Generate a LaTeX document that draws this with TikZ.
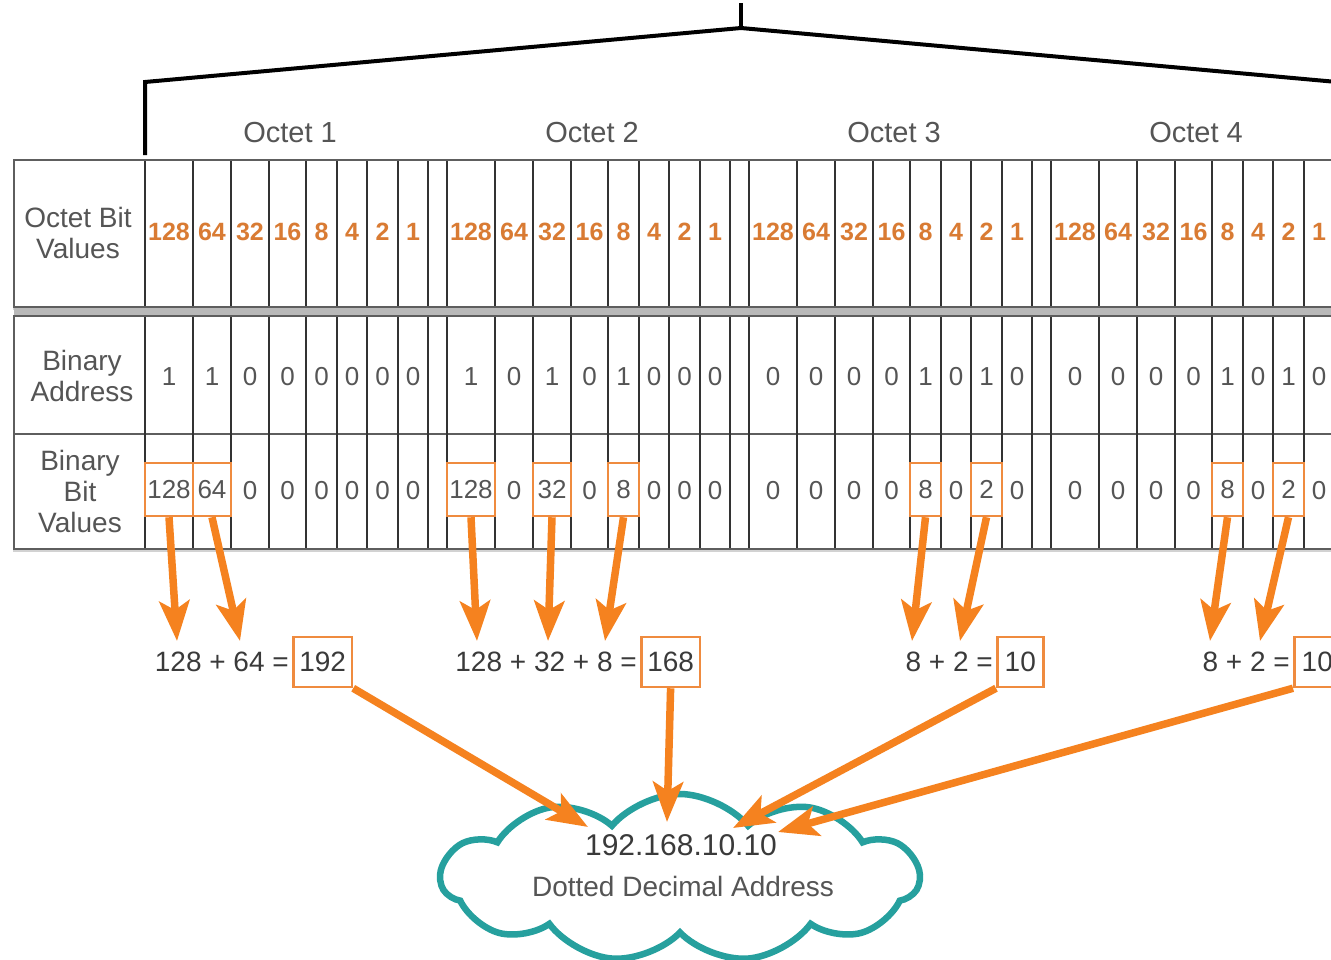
\documentclass[tikz,border=0pt]{standalone}
\usepackage{fontspec}
\setmainfont{Liberation Sans}
\usetikzlibrary{arrows.meta,shapes.symbols,shadows,positioning}

\definecolor{bitorange}{HTML}{D97B33}
\definecolor{boxorange}{HTML}{EF8B3F}
\definecolor{arroworange}{HTML}{F5821F}
\definecolor{textgray}{HTML}{555555}
\definecolor{darktext}{HTML}{3A3A3A}
\definecolor{gridline}{HTML}{333333}
\definecolor{framegray}{HTML}{5E5E5E}
\definecolor{cloudteal}{HTML}{26A09E}

\newcommand{\fsz}[1]{\fontsize{#1}{#1}\selectfont}

\tikzset{
  rowlabel/.style={text=textgray, align=center, inner sep=0pt, font=\fontsize{28}{31}\selectfont},
  octetlabel/.style={text=textgray, inner sep=0pt, font=\fsz{29}},
  bitval/.style={text=bitorange, inner sep=0pt, font=\bfseries\fsz{25}},
  bindigit/.style={text=textgray, inner sep=0pt, font=\fsz{26}},
  bitbox/.style={draw=boxorange, line width=2.5pt, minimum height=53pt, text=textgray, inner sep=0pt, font=\fsz{26}},
  sumterm/.style={text=darktext, inner sep=0pt, font=\fsz{28}},
  resbox/.style={draw=boxorange, line width=2.5pt, minimum height=50pt, minimum width=46pt, inner xsep=6pt, text=darktext, anchor=west, font=\fsz{28}},
  orangearrow/.style={draw=arroworange, line width=7.5pt, -{Stealth[length=40pt, width=30pt, inset=9pt]}},
  frame/.style={draw=framegray, line width=2.5pt, fill=white, drop shadow={shadow xshift=-1.5pt, shadow yshift=-3pt, opacity=0.35}},
}

\begin{document}
\begin{tikzpicture}[x=1pt, y=-1pt]
    \fill[white] (0,0) rectangle (1331,959);
    \path[use as bounding box, clip] (0,0) rectangle (1331,959);

    % Bracket over the four octets
    \draw[line width=4pt] (145,155) -- (145,82) -- (741,28) -- (1337,82) -- (1337,155);
    \draw[line width=4pt] (741,28) -- (741,3);

    % Table frames
    \path[frame] (14,160) rectangle (1345,307);
    \path[frame] (14,316) rectangle (1345,549);
    \fill[gray!55] (14,308.3) rectangle (1345,314.7);
    \draw[framegray, line width=2pt] (14,434) -- (1345,434);

    % Cell borders
    \foreach \k in {0,...,3}
        \foreach \dx in {0,48,86,124,161,192,222,253,283} {
            \draw[gridline, line width=1.6pt] (145+302*\k+\dx,161) -- (145+302*\k+\dx,306);
            \draw[gridline, line width=1.6pt] (145+302*\k+\dx,317) -- (145+302*\k+\dx,548);
        }

    % Row labels
    \node[rowlabel] (lab1) at (78,233) {Octet Bit\\Values};
    \node[rowlabel] (lab2) at (82,376) {Binary\\Address};
    \node[rowlabel] (lab3) at (80,491) {Binary\\Bit\\Values};

    % Octets
    \foreach \k/\bits in {0/{1,1,0,0,0,0,0,0}, 1/{1,0,1,0,1,0,0,0},
                          2/{0,0,0,0,1,0,1,0}, 3/{0,0,0,0,1,0,1,0}} {
        \pgfmathtruncatemacro{\num}{\k+1}
        \node[octetlabel] (oct\k) at (290+302*\k,133) {Octet \num};
        \foreach \d [count=\i] in \bits {
            \pgfmathsetmacro{\cl}{145+302*\k+{0,48,86,124,161,192,222,253}[\i-1]}
            \pgfmathsetmacro{\cr}{145+302*\k+{48,86,124,161,192,222,253,283}[\i-1]}
            \pgfmathtruncatemacro{\pv}{2^(8-\i)}
            \pgfmathtruncatemacro{\bv}{\d*\pv}
            \node[bitval] (v\k\i) at ({(\cl+\cr)/2},232) {\pv};
            \node[bindigit] (a\k\i) at ({(\cl+\cr)/2},377) {\d};
            \ifnum\bv>0
                \node[bitbox, minimum width={\cr-\cl}] (b\k\i) at ({(\cl+\cr)/2},489.5) {\bv};
            \else
                \node[bindigit] (b\k\i) at ({(\cl+\cr)/2},491) {0};
            \fi
        }
    }

    % Sums
    \node[resbox] (r0) at (292,662) {192};
    \node[resbox] (r1) at (640,662) {168};
    \node[resbox] (r2) at (996,662) {10};
    \node[resbox] (r3) at (1293,662) {10};
    \node[sumterm, left=3pt of r0] (e0) {128 + 64 =};
    \node[sumterm, left=3pt of r1] (e1) {128 + 32 + 8 =};
    \node[sumterm, left=3pt of r2] (e2) {8 + 2 =};
    \node[sumterm, left=3pt of r3] (e3) {8 + 2 =};

    \foreach \k/\i/\x in {0/1/177, 0/2/240, 1/1/477, 1/3/548, 1/5/605,
                          2/5/912, 2/7/960, 3/5/1210, 3/7/1260} {
        \coordinate (t\k\i) at (\x,641);
        \draw[orangearrow] (b\k\i.south) -- (t\k\i);
    }

    % Cloud
    \node[cloud, cloud puffs=11, cloud puff arc=100, aspect=2.9, draw=cloudteal, line width=6.5pt,
          minimum width=478pt, minimum height=168pt] (cloud) at (680,878) {};
    \node[text=darktext, font=\fsz{30}, inner sep=0pt] (ip) at (681,845) {192.168.10.10};
    \node[text=textgray, font=\fsz{28}, inner sep=0pt] (desc) at (683,886) {Dotted Decimal Address};

    \coordinate (in0) at (588,827);
    \coordinate (in1) at (667,822);
    \coordinate (in2) at (733,828);
    \coordinate (in3) at (778,832);
    \draw[orangearrow] (r0.south east) -- (in0);
    \draw[orangearrow] (r1.south) -- (in1);
    \draw[orangearrow] (r2.south west) -- (in2);
    \draw[orangearrow] (r3.south west) -- (in3);
\end{tikzpicture}
\end{document}
